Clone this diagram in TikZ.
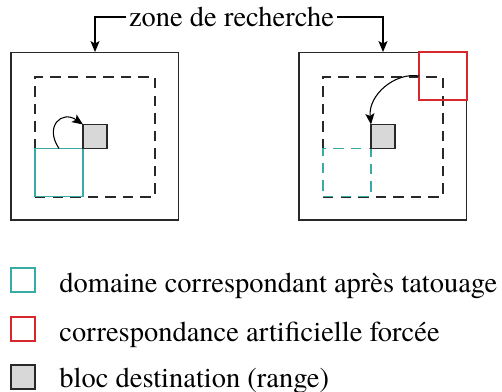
\documentclass[tikz,border=0pt,12pt]{standalone}
\usepackage{fontspec}
\setmainfont{TeX Gyre Termes}
\usepackage{tikz}
\usetikzlibrary{arrows.meta,positioning,calc}
\definecolor{DomaineTeal}{RGB}{58,170,166}
\definecolor{ForceRed}{RGB}{214,40,44}
\definecolor{BlocGray}{RGB}{216,216,216}
\definecolor{TraitGray}{RGB}{40,40,40}

\begin{document}
\begin{tikzpicture}[x=0.421pt,y=-0.421pt,
    sq/.style={draw=TraitGray,inner sep=0pt,outer sep=0pt,line width=0.45pt},
    zone/.style={sq,minimum size=70.7pt},
    search/.style={sq,minimum size=50.5pt,dash pattern=on 4.4pt off 3pt},
    dom/.style={sq,minimum size=20.2pt,draw=DomaineTeal},
    bloc/.style={sq,minimum size=10.1pt,fill=BlocGray},
    legbox/.style={sq,minimum size=10.1pt},
    arr/.style={-{Stealth[length=4.6pt,width=3.8pt,inset=1pt]},line width=0.45pt}]
  \useasboundingbox (0,0) rectangle (502,392);
  % zones de recherche
  \node[zone] (zoneL) at (95,136) {};
  \node[zone] (zoneR) at (383,136) {};
  \node[inner sep=1pt] (titre) at (231.5,17) {zone de recherche};
  \draw[arr] (titre.west) -| (zoneL.north);
  \draw[arr] (titre.east) -| (zoneR.north);
  % gauche
  \node[search] (searchL) at (95,137) {};
  \node[dom] (domL) at (59,172.5) {};
  \node[bloc] (blocL) at (95,136.5) {};
  \draw[arr] (domL.north) .. controls (44,126) and (62,110) .. (blocL.north west);
  % droite
  \node[search] (searchR) at (383,137) {};
  \node[dom,draw=white] at (347,172.5) {};
  \node[dom,dash pattern=on 4.4pt off 3pt] (domR) at (347,172.5) {};
  \node[bloc] (blocR) at (383,136.5) {};
  \node[sq,minimum size=20.2pt,draw=ForceRed] (forceR) at (443,76) {};
  \draw[arr] (forceR.west) .. controls (395,72) and (368,95) .. (blocR.north west);
  % legende
  \node[legbox,draw=DomaineTeal] (legDom) at (23,280) {};
  \node[legbox,draw=ForceRed] (legForce) at (23,329) {};
  \node[legbox,fill=BlocGray] (legBloc) at (23,377) {};
  \node[anchor=base west,inner sep=0pt] (txtDom) at (59,292) {domaine correspondant après tatouage};
  \node[anchor=base west,inner sep=0pt] (txtForce) at (59,341) {correspondance artificielle forcée};
  \node[anchor=base west,inner sep=0pt] (txtBloc) at (59,387) {bloc destination (range)};
\end{tikzpicture}
\end{document}
